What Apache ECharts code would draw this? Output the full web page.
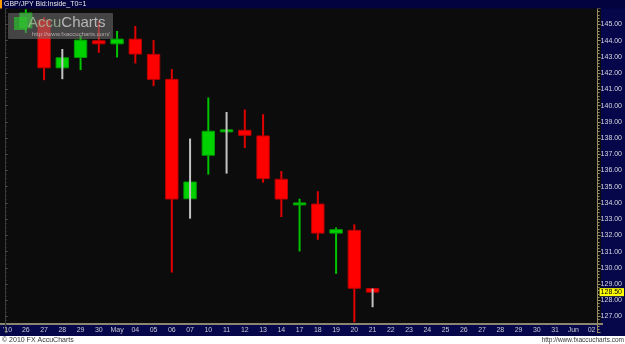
<!DOCTYPE html>
<html>
<head>
<meta charset="utf-8">
<script src="https://cdn.jsdelivr.net/npm/echarts@6/dist/echarts.min.js"></script>
<style>
html,body{margin:0;padding:0;background:#0c0c0c;}
#c{width:625px;height:344px;}
</style>
</head>
<body>
<div id="c"></div>
<script>
// ---- data ----
const title = "GBP/JPY Bid:Inside_T0=1";
const categories = ["'10","26","27","28","29","30","May","04","05","06","07","10","11","12","13","14","17","18","19","20","21","22","23","24","25","26","27","28","29","30","31","Jun","02"];
const opens  = [null,144.78,145.28,142.33,142.97,144.00,143.81,144.10,143.16,141.62,134.26,136.94,138.42,138.48,138.13,135.46,133.93,133.93,132.14,132.31,128.72];
const closes = [null,145.71,142.33,142.95,144.04,143.81,144.10,143.18,141.62,134.24,135.29,138.42,138.47,138.17,135.50,134.24,133.95,132.14,132.35,128.74,128.50];
const lows   = [null,144.47,141.57,141.63,142.19,143.26,142.97,142.60,141.20,129.71,133.03,135.75,135.81,137.39,135.25,133.13,131.01,131.73,129.63,126.64,127.57];
const highs  = [null,145.94,145.45,143.49,144.31,145.20,144.60,144.91,144.04,142.25,137.97,140.50,139.61,139.76,139.47,135.97,134.26,134.72,132.49,132.68,128.72];
const yMin = 126, yMax = 146, yStep = 1;
const footerLeft = "\u00a9 2010 FX AccuCharts";
const footerRight = "http://www.fxaccucharts.com";

// ---- build ----
const data = [];
for (let i = 0; i < opens.length; i++) {
  if (opens[i] == null) continue;
  let inside = 0;
  if (i > 0 && opens[i-1] != null && highs[i] <= highs[i-1] && lows[i] >= lows[i-1]) inside = 1;
  data.push([i, opens[i], closes[i], lows[i], highs[i], inside]);
}
let lastClose = null;
for (let i = closes.length - 1; i >= 0; i--) { if (closes[i] != null) { lastClose = closes[i]; break; } }

const FONT = "'Liberation Sans Narrow', 'Liberation Sans', Arial, sans-serif";
const chart = echarts.init(document.getElementById('c'), null, {renderer: 'canvas'});

function renderItem(params, api) {
  const i = api.value(0);
  const o = api.value(1), c = api.value(2), l = api.value(3), h = api.value(4), inside = api.value(5);
  const x = api.coord([i, o])[0];
  const yO = api.coord([i, o])[1], yC = api.coord([i, c])[1];
  const yL = api.coord([i, l])[1], yH = api.coord([i, h])[1];
  const bw = api.size([1, 0])[0] * 0.68;
  const up = c >= o;
  const fill = up ? '#00d200' : '#ff0000';
  const stroke = up ? '#009c00' : '#b80000';
  const wickColor = inside ? '#c4c4c4' : (up ? '#00c400' : '#e00000');
  let top = Math.min(yO, yC), ht = Math.abs(yO - yC);
  if (ht < 2) { top = (yO + yC) / 2 - 1; ht = 2; }
  const body = {
    type: 'rect',
    shape: {x: x - bw / 2, y: top, width: bw, height: ht},
    style: {fill: fill, stroke: stroke, lineWidth: 1}
  };
  const wick = {
    type: 'line',
    shape: {x1: x, y1: yH, x2: x, y2: yL},
    style: {stroke: wickColor, lineWidth: 2}
  };
  return {type: 'group', children: inside ? [body, wick] : [wick, body]};
}

const option = {
  animation: false,
  backgroundColor: '#0c0c0c',
  grid: {left: 3, right: 30, top: 8.3, bottom: 11.3, containLabel: false},
  xAxis: {
    type: 'category',
    data: categories,
    boundaryGap: false,
    position: 'bottom',
    offset: -8.7,
    axisLine: {show: false},
    axisTick: {show: false},
    splitLine: {show: false},
    axisLabel: {
      interval: 0, margin: 3, color: '#c8c8d0', fontSize: 7, fontFamily: FONT
    }
  },
  yAxis: [{
    type: 'value',
    min: yMin, max: yMax, interval: yStep,
    position: 'right',
    offset: 6,
    axisLine: {show: true, lineStyle: {color: '#9a8c62', width: 1}},
    axisTick: {show: true, length: 3, lineStyle: {color: '#9a8c62'}},
    minorTick: {show: true, splitNumber: 5, length: 2, lineStyle: {color: '#9a8c62'}},
    splitLine: {show: false},
    axisLabel: {
      margin: 3, color: '#d8d8e0', fontSize: 7, fontFamily: FONT,
      showMinLabel: false, showMaxLabel: false,
      formatter: v => v.toFixed(2)
    }
  }, {
    type: 'value',
    min: yMin, max: yMax, interval: yStep,
    position: 'left',
    offset: 2,
    axisLine: {show: true, lineStyle: {color: '#3a3a3a', width: 1}},
    axisTick: {show: true, inside: true, length: 2, lineStyle: {color: '#555'}},
    minorTick: {show: true, splitNumber: 4, length: 1, lineStyle: {color: '#444'}},
    splitLine: {show: false},
    axisLabel: {show: false}
  }],
  graphic: [
    {type: 'rect', z: -1, shape: {x: 601, y: 0, width: 24, height: 336}, style: {fill: '#06064a'}},
    {type: 'rect', z: -1, shape: {x: 0, y: 323, width: 625, height: 13}, style: {fill: '#06064a'}},
    {type: 'rect', z: -1, shape: {x: 0, y: 323, width: 603, height: 2}, style: {fill: '#8a8670'}},
    {type: 'rect', z: 50, shape: {x: 0, y: 336, width: 625, height: 8}, style: {fill: '#ffffff'}},
    {type: 'text', z: 51, left: 2, top: 336.5, style: {text: footerLeft, fill: '#333', font: "7px 'Liberation Sans', Arial"}},
    {type: 'text', z: 51, right: 1, top: 336.5, style: {text: footerRight, fill: '#333', font: "6.5px 'Liberation Sans', Arial"}},
    {type: 'rect', z: 50, shape: {x: 0, y: 0, width: 625, height: 8.5}, style: {fill: '#030340'}},
    {type: 'rect', z: 51, shape: {x: 0, y: 0, width: 2, height: 8.5}, style: {fill: '#ff9900'}},
    {type: 'text', z: 51, left: 4, top: 0.5, style: {text: title, fill: '#e8e8e8', font: "7px 'Liberation Sans', Arial"}},
    // watermark
    {type: 'rect', z: 40, shape: {x: 8, y: 13, width: 105, height: 26, r: 1}, style: {fill: 'rgba(115,115,115,0.55)'}},
    {type: 'rect', z: 41, shape: {x: 14, y: 17, width: 13, height: 13}, style: {fill: 'rgba(40,200,40,0.65)'}},
    {type: 'text', z: 41, left: 28, top: 15.5, style: {
      text: '{a|Accu}{b|Charts}',
      rich: {
        a: {fill: 'rgba(165,190,155,0.8)', fontSize: 15, fontFamily: 'Liberation Sans, Arial'},
        b: {fill: 'rgba(210,210,210,0.8)', fontSize: 15, fontFamily: 'Liberation Sans, Arial'}
      }
    }},
    {type: 'text', z: 41, left: 32, top: 31, style: {text: 'http://www.fxaccucharts.com/', fill: 'rgba(215,200,200,0.75)', font: "6px 'Liberation Sans', Arial"}}
  ],
  series: [{
    type: 'custom',
    renderItem: renderItem,
    data: data,
    encode: {x: 0, y: [1, 2, 3, 4]},
    clip: false,
    z: 5,
    markLine: {
      silent: true,
      symbol: 'none',
      clip: false,
      lineStyle: {color: 'rgba(0,0,0,0)', width: 0, type: 'solid'},
      data: [{yAxis: lastClose}],
      label: {
        show: true, position: 'end', distance: 8,
        formatter: p => Number(p.value).toFixed(2),
        backgroundColor: '#ffff00', color: '#000', fontSize: 7, fontFamily: FONT,
        padding: [1, 2, 0, 1]
      }
    }
  }]
};
chart.setOption(option);
</script>
</body>
</html>
